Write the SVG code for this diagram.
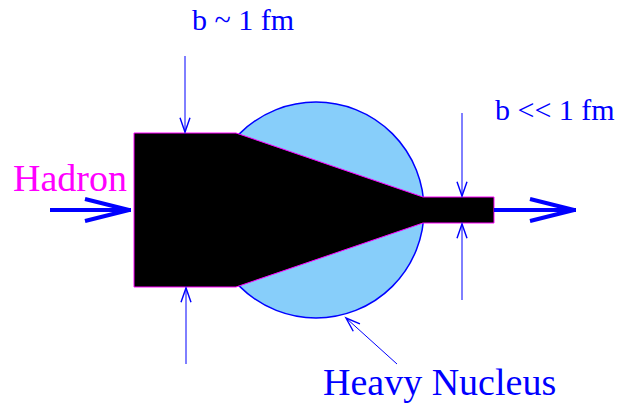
<svg xmlns="http://www.w3.org/2000/svg" width="620" height="407" viewBox="0 0 620 407">
<style>
.lbl{font-family:"Liberation Serif","Times New Roman",serif;}
.thin{stroke:#0000FF;stroke-width:1;fill:none;}
.thick{stroke:#0000FF;stroke-width:4;fill:none;}
</style>
<defs>
<marker id="vThin" markerUnits="userSpaceOnUse" markerWidth="20" markerHeight="20" viewBox="-12 -6 14 12" refX="0" refY="0" orient="auto" overflow="visible">
<path d="M-10,-3.5 L0,0 L-10,3.5" fill="none" stroke="#0000FF" stroke-width="1"/>
</marker>
<marker id="vThick" markerUnits="userSpaceOnUse" markerWidth="60" markerHeight="30" viewBox="-50 -15 52 30" refX="0" refY="0" orient="auto" overflow="visible">
<path d="M-46,-11 L-2,0 L-46,11" fill="none" stroke="#0000FF" stroke-width="4" stroke-linejoin="miter"/>
</marker>
</defs>
<rect width="620" height="407" fill="#FFFFFF"/>
<g id="nucleus">
<circle cx="316" cy="210" r="108" fill="#87CEFA" stroke="#0000FF" stroke-width="1.5"/>
</g>
<g id="hadron-tube">
<path d="M134,133 L236,133 L423,197 L494,197 L494,223 L423,223 L236,287 L134,287 Z" fill="#000000" stroke="#FF00FF" stroke-width="1"/>
</g>
<g id="connectors">
<line class="thick" x1="50" y1="210" x2="131" y2="210" marker-end="url(#vThick)"/>
<line class="thick" x1="494" y1="210" x2="576" y2="210" marker-end="url(#vThick)"/>
<line class="thin" x1="185" y1="56" x2="185" y2="132" marker-end="url(#vThin)"/>
<line class="thin" x1="186" y1="364" x2="186" y2="288" marker-end="url(#vThin)"/>
<line class="thin" x1="462" y1="113" x2="462" y2="196" marker-end="url(#vThin)"/>
<line class="thin" x1="462" y1="300" x2="462" y2="224" marker-end="url(#vThin)"/>
<line class="thin" x1="397" y1="364" x2="346" y2="318" marker-end="url(#vThin)"/>
</g>
<g id="labels">
<text class="lbl" x="13" y="191" font-size="38" fill="#FF00FF">Hadron</text>
<text class="lbl" x="192" y="30" font-size="30" fill="#0000FF" xml:space="preserve">b ~ 1 fm</text>
<text class="lbl" x="495" y="120" font-size="30" fill="#0000FF" xml:space="preserve">b &lt;&lt; 1 fm</text>
<text class="lbl" x="323" y="395" font-size="38" fill="#0000FF">Heavy Nucleus</text>
</g>
</svg>
